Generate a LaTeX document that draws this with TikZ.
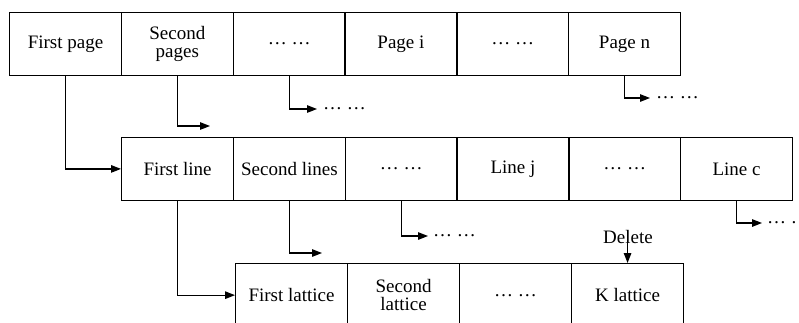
\documentclass[tikz,border=0pt]{standalone}
\usepackage{fontspec}
\setmainfont{Liberation Serif}
\usetikzlibrary{arrows.meta}
\begin{document}
\begin{tikzpicture}[x=1pt,y=-1pt,
  cell/.style={draw, line width=1.3pt, minimum width=111.8pt, minimum height=62.5pt,
    inner sep=0pt, align=center, anchor=north west,
    font=\fontsize{19}{21}\selectfont},
  lnk/.style={line width=1.3pt, -{Triangle[length=10pt,width=7.5pt]}},
  dd/.style={anchor=west, inner sep=0pt, font=\fontsize{19}{21}\selectfont},
  lbl/.style={inner sep=0pt, font=\fontsize{19}{21}\selectfont}]
\useasboundingbox (0,0) rectangle (799,322);
% row 1
\node[cell] (p1) at (9,12) {First page};
\node[cell] (p2) at (120.8,12) {Second\\[-3pt]pages};
\node[cell] (p3) at (232.6,12) {… …};
\node[cell] (p4) at (344.4,12) {Page i};
\node[cell] (p5) at (456.2,12) {… …};
\node[cell] (p6) at (568,12) {Page n};
% row 2
\node[cell] (l1) at (121,137) {First line};
\node[cell] (l2) at (232.8,137) {Second lines};
\node[cell] (l3) at (344.6,137) {… …};
\node[cell] (l4) at (456.4,137) {Line j};
\node[cell] (l5) at (568.2,137) {… …};
\node[cell] (l6) at (680,137) {Line c};
% row 3
\node[cell, minimum height=63pt] (k1) at (235,263) {First lattice};
\node[cell, minimum height=63pt] (k2) at (347,263) {Second\\[-3pt]lattice};
\node[cell, minimum height=63pt] (k3) at (459,263) {… …};
\node[cell, minimum height=63pt] (k4) at (571,263) {K lattice};
% free ends
\coordinate (a1) at (210,126);
\coordinate (a2) at (322,253);
\node[dd] (d1) at (323,109) {… …};
\node[dd] (d2) at (656,98) {… …};
\node[dd] (d3) at (433,236) {… …};
\node[dd] (d4) at (767,223) {… …};
\node[lbl] (del) at (628,237) {Delete};
% connectors
\draw[lnk] (p1.south) |- (l1.west);
\draw[lnk] (p2.south) |- (a1);
\draw[lnk, shorten >=6pt] (p3.south) |- (d1.west);
\draw[lnk, shorten >=6pt] (p6.south) |- (d2.west);
\draw[lnk] (l1.south) |- (k1.west);
\draw[lnk] (l2.south) |- (a2);
\draw[lnk, shorten >=5pt] (l3.south) |- (d3.west);
\draw[lnk, shorten >=5pt] (l6.south) |- (d4.west);
\draw[lnk] (k4.north |- del.north) -- (k4.north);
\end{tikzpicture}
\end{document}
